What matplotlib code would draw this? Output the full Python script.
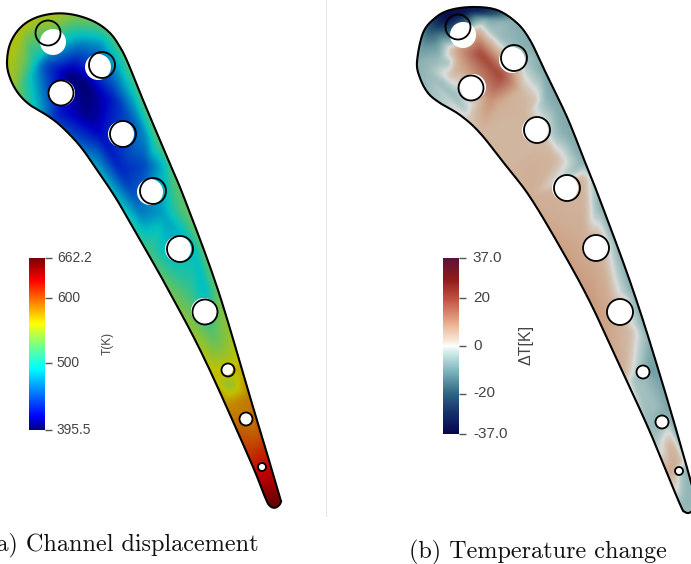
import numpy as np
import matplotlib
matplotlib.use("Agg")
import matplotlib.pyplot as plt
import matplotlib.tri as mtri
from matplotlib.colors import LinearSegmentedColormap, Normalize
from matplotlib.path import Path
from matplotlib.patches import PathPatch, Circle
from matplotlib.cm import ScalarMappable
from matplotlib.transforms import ScaledTranslation

W, H = 691, 564

# ---------- blade outlines (closed, in picture pixels) ----------
left_outline_x = [7, 10, 20, 35, 55, 75, 95, 110, 120, 128, 143, 167, 185, 218, 250, 266, 279, 281, 276, 270, 265, 250, 205, 170, 143, 117, 97, 80, 62, 48, 30, 18, 10]
left_outline_y = [63, 44, 28, 18, 13.5, 15, 22, 33, 47, 63, 100, 157, 200, 290, 397, 450, 495, 502, 507.5, 506, 497, 460, 360, 293, 245, 200, 170, 146, 127, 116, 105, 93, 78]
right_outline_x = [417, 423, 435, 450, 473, 497, 517, 530, 543, 567, 583, 600, 633, 663, 691, 696, 691, 685, 679, 650, 623, 590, 560, 530, 507, 480, 460, 440, 428, 420]
right_outline_y = [62, 33, 18, 10, 7, 10, 23, 40, 67, 117, 157, 200, 290, 385, 482, 505, 512, 512, 502, 432, 373, 302, 247, 197, 167, 133, 115, 103, 93, 78]

# ---------- holes: outline rings and displaced white holes ----------
left_ring_x = [48, 102, 61, 123, 153, 180, 205, 228, 246, 262]
left_ring_y = [33, 65, 93, 134, 191, 249, 312, 370, 419, 467]
left_ring_r = [12.5, 13, 12.5, 13, 13, 13, 12.5, 6.5, 6.5, 4]
left_hole_x = [53, 98, 62, 121, 150, 178, 204, 227, 246, 262]
left_hole_y = [42, 67, 93, 134, 192, 249, 311, 369, 419, 467]
left_hole_r = [13, 13, 13, 13, 13, 13, 13, 6, 6, 3.5]
right_ring_x = [458, 514, 471, 537, 567, 596, 620, 643, 662, 679]
right_ring_y = [27, 58, 88, 130, 188, 248, 312, 372, 422, 471]
right_ring_r = [12.5, 13, 12.5, 13, 13, 13, 13, 6.5, 6.5, 4]
right_hole_x = [463, 512, 473, 535, 565, 595, 620, 643, 662, 679]
right_hole_y = [35, 60, 87, 130, 188, 248, 312, 372, 422, 471]
right_hole_r = [13, 13, 13, 13, 13, 13, 13, 6.5, 6.5, 4]

# ---------- field samples: T (K) ----------
T_x = [8, 20, 35, 55, 75, 95, 110, 128, 25, 35, 45, 70, 85, 60, 75, 80, 100, 120, 13, 30, 50, 60, 85, 100, 115, 135, 143,
       70, 100, 145, 158, 97, 120, 145, 165, 172, 122, 140, 165, 185, 148, 165, 195, 207, 170, 190, 205, 219, 197, 215, 233,
       213, 228, 243, 228, 250, 240, 258, 249, 267, 258, 275, 265, 280, 273]
T_y = [63, 28, 18, 13, 15, 22, 33, 63, 60, 60, 65, 75, 85, 22, 30, 45, 45, 60, 90, 107, 118, 112, 115, 110, 100, 100, 100,
       137, 135, 135, 140, 170, 170, 165, 165, 165, 208, 210, 215, 210, 252, 250, 250, 250, 293, 290, 290, 290, 340, 340, 333,
       377, 385, 370, 405, 397, 437, 430, 455, 450, 480, 480, 498, 497, 508]
T_v = [556, 556, 554, 552, 540, 528, 518, 522, 532, 495, 445, 400, 398, 540, 505, 462, 470, 495, 545, 505, 440, 425, 405, 410, 430, 485, 525,
       450, 420, 468, 522, 485, 430, 445, 490, 525, 495, 460, 480, 528, 518, 490, 490, 535, 535, 512, 485, 535, 548, 528, 550,
       565, 540, 570, 580, 585, 600, 592, 610, 615, 630, 635, 650, 655, 662]

# ---------- field samples: dT (K) ----------
D_x = [447, 465, 473, 487, 430, 423, 417, 435, 508, 527, 545, 425, 440, 436, 442, 452, 447, 456, 466, 478, 490, 497, 480, 500, 465, 455,
       450, 490, 505, 520, 525, 535, 527, 534, 545, 557, 540, 556, 568,
       455, 462, 468, 480, 507, 530, 530, 555, 575, 583, 583, 595, 601, 560, 585, 600, 612, 619, 590, 610, 620, 634,
       603, 620, 630, 640, 650, 622, 632, 640, 650, 664, 647, 655, 666, 655, 668, 676, 681, 672, 682, 691, 683, 691]
D_y = [17, 10, 13, 17, 30, 47, 62, 30, 20, 40, 70, 70, 60, 45, 40, 40, 62, 62, 38, 28, 30, 35, 53, 75, 65, 50,
       75, 100, 100, 90, 115, 100, 60, 60, 100, 108, 133, 135, 135,
       95, 110, 118, 133, 167, 165, 197, 160, 170, 160, 178, 178, 200, 247, 235, 240, 240, 245, 302, 300, 300, 290,
       330, 325, 330, 325, 340, 375, 380, 375, 370, 385, 420, 405, 410, 437, 445, 450, 460, 470, 470, 470, 505, 500]
D_v = [-36, -34, -20, -10, -20, -11, -7, -20, -7, -8, -9, -6, -5, -11, -9, -8, -5, 5, 5, 4, -4, -5, 20, 20, 9, 7,
       3, 10, 6, 5, 5, 3, -5, -5, -6, -8, 4, -5, -8,
       -5, -4, 2, 5, 5, 6, 6, 5, -5, -8, 5, -5, -9, 8, 6, 5, -5, -8, 9, 6, 5, -9,
       8, 6, 4, -5, -8, 6, -4, -5, -10, -10, -5, -5, -8, -5, 5, 5, 4, 7, -5, -8, -6, -6]

# ---------- colour bars ----------
T_min, T_max = 395.5, 662.2
T_ticks = [395.5, 500, 600, 662.2]
T_ticklabels = ["395.5", "500", "600", "662.2"]
D_min, D_max = -37.0, 37.0
D_ticks = [-37.0, -20, 0, 20, 37.0]
D_ticklabels = ["-37.0", "-20", "0", "20", "37.0"]
left_stops = [(0.0, "#00007a"), (0.08, "#0000ff"), (0.36, "#00ffff"), (0.50, "#80ff80"), (0.62, "#ffff00"),
              (0.87, "#ff0000"), (1.0, "#7a0000")]
right_stops = [(0.0, "#05054f"), (0.12, "#15306a"), (0.23, "#2f6585"), (0.36, "#7fb6bd"), (0.47, "#d6efec"), (0.5, "#ffffff"),
               (0.53, "#f6e8d8"), (0.60, "#f0c0a0"), (0.77, "#c05040"), (0.88, "#8f1a1a"), (1.0, "#5c1238")]
left_shade = 0.76
right_shade = 0.86


def smooth_closed(xs, ys, per=10):
    p = np.column_stack([xs, ys], ).astype(float)
    n = len(p)
    out = []
    for i in range(n):
        p0, p1, p2, p3 = p[(i - 1) % n], p[i], p[(i + 1) % n], p[(i + 2) % n]
        for t in np.linspace(0, 1, per, endpoint=False):
            out.append(0.5 * (2 * p1 + (p2 - p0) * t + (2 * p0 - 5 * p1 + 4 * p2 - p3) * t ** 2
                              + (3 * p1 - p0 - 3 * p2 + p3) * t ** 3))
    out = np.array(out)
    return np.vstack([out, out[:1]])


fig = plt.figure(figsize=(W / 100, H / 100), dpi=100)
ax = fig.add_axes([0, 0, 1, 1])
ax.set_xlim(0, W)
ax.set_ylim(H, 0)
ax.axis("off")

ax.plot([326, 326], [0, 516], color="#e6e6e6", lw=0.8, zorder=0)


def draw_blade(ox, oy, fx, fy, fv, vmin, vmax, cmap, xr, rings, holes, shade, blur):
    outline = smooth_closed(ox, oy)
    path = Path(outline, closed=True)
    fx = np.asarray(fx, float)
    fy = np.asarray(fy, float)
    fv = np.asarray(fv, float)
    x0, x1 = xr
    ax_x = np.r_[fx, [x0 - 40, x1 + 40, x1 + 40, x0 - 40]]
    ax_y = np.r_[fy, [-40, -40, H + 40, H + 40]]
    ax_v = np.r_[fv, [fv.mean()] * 4]
    tri = mtri.Triangulation(ax_x, ax_y)
    interp = mtri.LinearTriInterpolator(tri, ax_v)
    gx, gy = np.meshgrid(np.arange(x0, x1 + 1, 1.0), np.arange(0, H + 1, 1.0))
    z = np.ma.filled(interp(gx, gy), fv.mean())
    k = np.hanning(blur)
    k /= k.sum()
    m = blur // 2
    z = np.apply_along_axis(lambda r: np.convolve(np.pad(r, m, mode="edge"), k, mode="valid"), 0, z)
    z = np.apply_along_axis(lambda r: np.convolve(np.pad(r, m, mode="edge"), k, mode="valid"), 1, z)
    rgb = cmap(Normalize(vmin, vmax)(z))[..., :3] * shade
    im = ax.imshow(rgb, extent=[x0, x1, H, 0], interpolation="bilinear", aspect="auto", zorder=1)
    clip = PathPatch(path, transform=ax.transData, fc="none", ec="none")
    ax.add_patch(clip)
    im.set_clip_path(clip)
    for hx, hy, hr in zip(*holes):
        ax.add_patch(Circle((hx, hy), hr, fc="white", ec="none", zorder=2))
    for rx, ry, rr in zip(*rings):
        ax.add_patch(Circle((rx, ry), rr, fc="none", ec="black", lw=1.3, zorder=3))
    ax.plot(outline[:, 0], outline[:, 1], color="black", lw=1.5, zorder=4, solid_joinstyle="round")


left_cmap = LinearSegmentedColormap.from_list("t", left_stops, N=512)
right_cmap = LinearSegmentedColormap.from_list("d", right_stops, N=512)

draw_blade(left_outline_x, left_outline_y, T_x, T_y, T_v, T_min, T_max, left_cmap, (0, 300),
           (left_ring_x, left_ring_y, left_ring_r), (left_hole_x, left_hole_y, left_hole_r), left_shade, 15)
draw_blade(right_outline_x, right_outline_y, D_x, D_y, D_v, D_min, D_max, right_cmap, (400, 700),
           (right_ring_x, right_ring_y, right_ring_r), (right_hole_x, right_hole_y, right_hole_r), right_shade, 13)
ax.set_xlim(0, W)
ax.set_ylim(H, 0)


def colourbar(x0, x1, y0, y1, vmin, vmax, cmap, ticks, labels, fs, pad, title, tx, ty, tfs):
    cax = fig.add_axes([x0 / W, 1 - y1 / H, (x1 - x0) / W, (y1 - y0) / H])
    cb = fig.colorbar(ScalarMappable(Normalize(vmin, vmax), cmap), cax=cax)
    cb.outline.set_visible(False)
    cb.set_ticks(ticks, labels=labels)
    cax.set_yticks(ticks, minor=True)
    cax.tick_params(which="major", direction="out", length=5.0, width=1.0, color="#555555", pad=pad,
                    labelsize=fs, labelcolor="#444444")
    cax.tick_params(which="minor", direction="in", length=2.2, width=1.0, color="#555555")
    up = ScaledTranslation(0, 1.6 / 100, fig.dpi_scale_trans)
    for lab in cax.get_yticklabels():
        lab.set_fontfamily("Liberation Sans")
        lab.set_transform(lab.get_transform() + up)
    ax.text(tx, ty, title, rotation=90, ha="center", va="center", fontsize=tfs, color="#444444",
            family="Liberation Sans", zorder=5)


colourbar(29, 45, 258, 430, T_min, T_max, left_cmap, T_ticks, T_ticklabels, 9.9, 3.5, "T(K)", 108, 343, 8.6)
colourbar(443, 459, 258, 434, D_min, D_max, right_cmap, D_ticks, D_ticklabels, 11, 5, "\u0394T[K]", 526, 345, 11.5)

ax.text(-13, 545.5, "(a) Channel displacement", family="cmr10", fontsize=17.4, ha="left", va="center", color="#111111", zorder=5)
ax.text(409, 552.5, "(b) Temperature change", family="cmr10", fontsize=17.4, ha="left", va="center", color="#111111", zorder=5)

fig.savefig("out.png", dpi=100, facecolor="white")
